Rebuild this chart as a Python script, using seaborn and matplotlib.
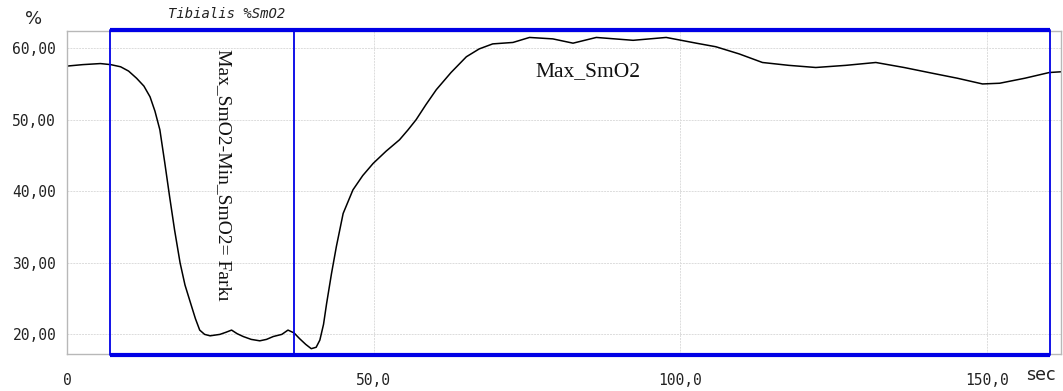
import matplotlib
matplotlib.use('Agg')
import matplotlib.pyplot as plt
import pandas as pd
import seaborn as sns

# SmO2 curve (time in sec, value in %)
time_s = [0.0, 2.5, 5.4, 7.1, 8.7, 10.0, 11.3, 12.5, 13.5, 14.3, 15.1, 15.9, 16.7,
          17.5, 18.4, 19.2, 20.1, 20.9, 21.6, 22.4, 23.3, 24.9, 25.9, 26.8, 27.7,
          28.7, 30.0, 31.4, 32.5, 33.6, 35.0, 36.0, 37.0, 37.9, 38.9, 39.8, 40.6,
          41.2, 41.8, 42.3, 43.1, 43.9, 45.0, 46.6, 48.2, 49.9, 52.0, 54.2, 55.6,
          56.9, 58.5, 60.2, 62.6, 65.1, 67.2, 69.4, 72.7, 75.4, 79.2, 82.5, 86.3,
          92.3, 97.7, 102.6, 105.8, 109.6, 113.4, 117.7, 122.1, 127.0, 131.9, 136.5,
          141.1, 145.2, 149.3, 152.1, 156.2, 160.2, 162.1]
smo2 = [57.5, 57.7, 57.85, 57.7, 57.4, 56.8, 55.8, 54.7, 53.2, 51.2, 48.6, 44.0, 39.2,
        34.6, 30.0, 26.9, 24.4, 22.2, 20.6, 20.0, 19.8, 20.0, 20.3, 20.6, 20.1,
        19.7, 19.3, 19.1, 19.3, 19.7, 20.0, 20.6, 20.2, 19.4, 18.6, 18.0, 18.2,
        19.2, 21.4, 24.3, 28.5, 32.3, 36.9, 40.2, 42.2, 43.9, 45.6, 47.2, 48.6,
        50.0, 52.1, 54.2, 56.6, 58.8, 59.9, 60.6, 60.8, 61.5, 61.3, 60.7, 61.5,
        61.1, 61.5, 60.7, 60.2, 59.2, 58.0, 57.6, 57.3, 57.6, 58.0, 57.3,
        56.5, 55.8, 55.0, 55.1, 55.8, 56.6, 56.7]

y_ticks = [20, 30, 40, 50, 60]
y_tick_labels = ['20,00', '30,00', '40,00', '50,00', '60,00']
x_ticks = [0, 50, 100, 150]
x_tick_labels = ['0', '50,0', '100,0', '150,0']

# marker window (sec) and label texts
win_start, win_mid, win_end = 7.0, 36.95, 160.3
title_txt = 'Tibialis %SmO2'
diff_txt = 'Max_SmO2-Min_SmO2= Farkı'
max_txt = 'Max_SmO2'

df = pd.DataFrame({'time': time_s, 'smo2': smo2})

sns.set_style('white')
plt.rcParams['font.family'] = ['DejaVu Sans']

fig = plt.figure(figsize=(10.63, 3.91), dpi=100)
ax = fig.add_axes([0.0633, 0.0954, 0.9348, 0.8253])

sns.lineplot(data=df, x='time', y='smo2', ax=ax, color='black', linewidth=1.1)

ax.set_xlim(0, 162.1)
ax.set_ylim(17.3, 62.4)
ax.set_xticks(x_ticks)
ax.set_xticklabels(x_tick_labels, family='DejaVu Sans Mono', fontsize=10.5)
ax.set_yticks(y_ticks)
ax.set_yticklabels(y_tick_labels, family='DejaVu Sans Mono', fontsize=10.5)
ax.tick_params(axis='both', length=0, colors='#222222')
ax.tick_params(axis='x', pad=14)
ax.tick_params(axis='y', pad=8)
ax.set_xlabel('')
ax.set_ylabel('')

ax.grid(True, color='#dcdcdc', linestyle=(0, (2, 1)), linewidth=0.7)
for side in ax.spines.values():
    side.set_color('#b8b8b8')
    side.set_linewidth(1.0)

# blue window
blue = '#0000e6'
y_top, y_bot = 62.6, 17.1
ax.plot([win_start, win_end], [y_top, y_top], color=blue, lw=3.0, clip_on=False,
        solid_capstyle='butt', zorder=5)
ax.plot([win_start, win_end], [y_bot, y_bot], color=blue, lw=3.0, clip_on=False,
        solid_capstyle='butt', zorder=5)
for xv in (win_start, win_mid, win_end):
    ax.plot([xv, xv], [y_bot, y_top], color=blue, lw=1.3, clip_on=False, zorder=5)

ax.text(25.4, 42.35, diff_txt, rotation=-90, ha='center', va='center',
        family='Liberation Serif', fontsize=14, color='#111111')
ax.text(85.0, 56.7, max_txt, ha='center', va='center',
        family='Liberation Serif', fontsize=15.5, color='#111111')

fig.text(227 / 1063, 1 - 14 / 391, title_txt, ha='center', va='center',
         family='DejaVu Sans Mono', style='italic', fontsize=10, color='#222222')
fig.text(34 / 1063, 1 - 19 / 391, '%', ha='center', va='center', fontsize=13, color='#222222')
fig.text(1041 / 1063, 1 - 375 / 391, 'sec', ha='center', va='center', fontsize=12.5, color='#222222')

fig.savefig('out.png', dpi=100)
